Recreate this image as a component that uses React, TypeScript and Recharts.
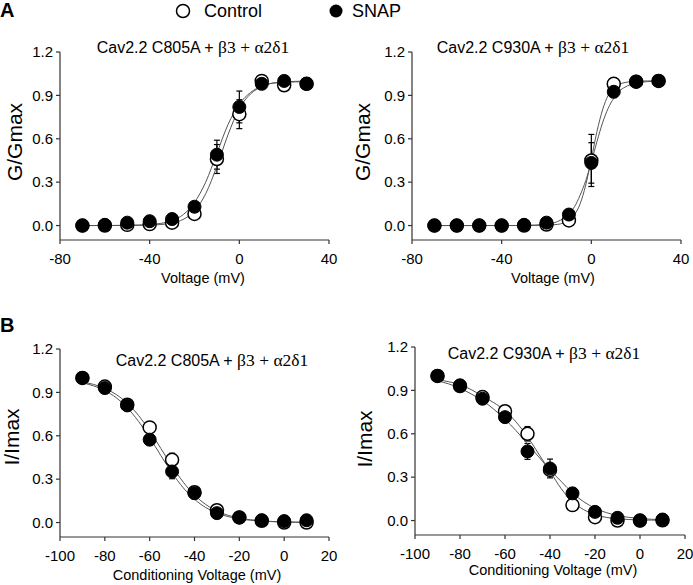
import { ComposedChart, Line, XAxis, YAxis, ErrorBar } from 'recharts';

// ---------- Panel A: activation (G/Gmax) ----------
const actVoltages = [-70, -60, -50, -40, -30, -20, -10, 0, 10, 20, 30];

const actC805Control = [0, 0, 0.005, 0.01, 0.02, 0.08, 0.46, 0.77, 1.0, 0.97, 0.98];
const actC805ControlErr = [0, 0, 0, 0, 0.01, 0.01, 0.1, 0.1, 0.02, 0.01, 0.01];
const actC805Snap = [0, 0.005, 0.02, 0.03, 0.045, 0.13, 0.49, 0.82, 0.98, 1.0, 0.98];
const actC805SnapErr = [0, 0, 0.005, 0.01, 0.01, 0.02, 0.1, 0.11, 0.03, 0.01, 0.01];

const actC930Control = [0, 0, 0, 0, 0, 0.007, 0.035, 0.45, 0.98, 0.995, 1.0];
const actC930ControlErr = [0, 0, 0, 0, 0, 0, 0.01, 0.18, 0.01, 0.01, 0];
const actC930Snap = [0, 0, 0, 0, 0.005, 0.02, 0.076, 0.433, 0.925, 0.995, 1.0];
const actC930SnapErr = [0, 0, 0, 0, 0, 0.005, 0.01, 0.14, 0.04, 0.01, 0];

// fitted curves
const actFitV805 = [-70, -60, -50, -40, -35, -30, -25, -20, -15, -10, -5, 0, 5, 10, 15, 20, 25, 30];
const actFitC805Control = [0, 0, 0.001, 0.003, 0.007, 0.018, 0.043, 0.1, 0.22, 0.41, 0.63, 0.81, 0.91, 0.96, 0.985, 0.99, 0.993, 0.995];
const actFitC805Snap = [0, 0, 0.0013, 0.007, 0.015, 0.034, 0.076, 0.16, 0.3, 0.5, 0.7, 0.84, 0.92, 0.965, 0.985, 0.993, 0.997, 0.998];

const actFitV930 = [-70, -60, -50, -40, -30, -20, -15, -10, -7.5, -5, -2.5, 0, 2.5, 5, 7.5, 10, 12.5, 15, 20, 25, 30];
const actFitC930Control = [0, 0, 0, 0, 0, 0.002, 0.008, 0.036, 0.076, 0.15, 0.28, 0.46, 0.65, 0.8, 0.9, 0.95, 0.977, 0.989, 0.998, 1.0, 1.0];
const actFitC930Snap = [0, 0, 0, 0, 0.001, 0.009, 0.028, 0.08, 0.13, 0.21, 0.31, 0.44, 0.58, 0.71, 0.81, 0.88, 0.93, 0.957, 0.985, 0.995, 0.998];

// ---------- Panel B: inactivation (I/Imax) ----------
const inactVoltages = [-90, -80, -70, -60, -50, -40, -30, -20, -10, 0, 10];

const inactC805Control = [1.0, 0.94, 0.815, 0.658, 0.434, 0.21, 0.085, 0.035, 0.012, 0.0, 0.0];
const inactC805ControlErr = [0, 0.01, 0.01, 0.02, 0.045, 0.03, 0.02, 0.01, 0, 0, 0];
const inactC805Snap = [1.0, 0.93, 0.81, 0.573, 0.353, 0.203, 0.065, 0.035, 0.016, 0.01, 0.016];
const inactC805SnapErr = [0, 0.01, 0.01, 0.035, 0.05, 0.04, 0.02, 0.01, 0, 0, 0];

const inactC930Control = [1.0, 0.93, 0.854, 0.756, 0.6, 0.35, 0.107, 0.023, 0.0, 0.0, 0.002];
const inactC930ControlErr = [0, 0.01, 0.01, 0.02, 0.05, 0.04, 0.035, 0.01, 0, 0, 0];
const inactC930Snap = [1.0, 0.935, 0.842, 0.715, 0.478, 0.36, 0.188, 0.06, 0.019, 0.0, 0.007];
const inactC930SnapErr = [0, 0.01, 0.01, 0.025, 0.055, 0.065, 0.02, 0.015, 0, 0, 0];

const inactFitV = [-90, -85, -80, -75, -70, -65, -60, -55, -50, -45, -40, -35, -30, -25, -20, -15, -10, -5, 0, 5, 10];
const inactFitC805Control = [0.972, 0.955, 0.928, 0.886, 0.825, 0.741, 0.634, 0.512, 0.389, 0.279, 0.19, 0.125, 0.079, 0.05, 0.031, 0.019, 0.012, 0.007, 0.004, 0.003, 0.002];
const inactFitC805Snap = [0.966, 0.945, 0.913, 0.864, 0.794, 0.7, 0.587, 0.463, 0.343, 0.24, 0.161, 0.104, 0.066, 0.041, 0.025, 0.016, 0.01, 0.006, 0.004, 0.002, 0.001];
const inactFitC930Control = [0.975, 0.96, 0.94, 0.905, 0.86, 0.815, 0.76, 0.68, 0.58, 0.46, 0.34, 0.22, 0.13, 0.075, 0.04, 0.022, 0.012, 0.007, 0.004, 0.003, 0.002];
const inactFitC930Snap = [0.965, 0.945, 0.915, 0.875, 0.83, 0.77, 0.7, 0.62, 0.53, 0.44, 0.35, 0.27, 0.19, 0.13, 0.085, 0.055, 0.035, 0.022, 0.014, 0.009, 0.006];

const actTicks = [-80, -40, 0, 40];
const inactTicks = [-100, -80, -60, -40, -20, 0, 20];
const yTicks = [0, 0.3, 0.6, 0.9, 1.2];

const SANS = 'Arial, "Liberation Sans", sans-serif';
const SERIF = '"Times New Roman", "Liberation Serif", serif';
const AXIS = '#333';
const FIT = '#555';

const points = (xs: number[], ys: number[], errs?: number[]) =>
  xs.map((v, i) => ({ v, y: ys[i], err: errs ? errs[i] : 0 }));

interface PanelProps {
  left: number;
  top: number;
  width: number;
  xDomain: [number, number];
  xTicks: number[];
  fitX: number[];
  fitControl: number[];
  fitSnap: number[];
  x: number[];
  control: number[];
  controlErr: number[];
  snap: number[];
  snapErr: number[];
}

function Panel(p: PanelProps) {
  const ctrlPts = points(p.x, p.control, p.controlErr);
  const snapPts = points(p.x, p.snap, p.snapErr);
  return (
    <div style={{ position: 'absolute', left: p.left, top: p.top }}>
      <ComposedChart width={p.width} height={260} margin={{ top: 22, right: 12, left: 0, bottom: 0 }}>
        <XAxis
          type="number"
          dataKey="v"
          domain={p.xDomain}
          ticks={p.xTicks}
          allowDataOverflow
          height={50}
          stroke={AXIS}
          strokeWidth={1.2}
          tickSize={4}
          tickMargin={9}
          tick={{ fontSize: 15, fill: '#000', fontFamily: SANS }}
        />
        <YAxis
          type="number"
          domain={[-0.1, 1.2]}
          ticks={yTicks}
          allowDataOverflow
          width={60}
          stroke={AXIS}
          strokeWidth={1.2}
          tickSize={4}
          tickMargin={3}
          tickFormatter={(v: number) => v.toFixed(1)}
          tick={{ fontSize: 15, fill: '#000', fontFamily: SANS }}
        />
        {/* error bars first so the markers sit on top of them */}
        <Line data={ctrlPts} dataKey="y" stroke="none" dot={false} activeDot={false} isAnimationActive={false}>
          <ErrorBar dataKey="err" direction="y" width={3} stroke="#000" strokeWidth={1.2} />
        </Line>
        <Line data={snapPts} dataKey="y" stroke="none" dot={false} activeDot={false} isAnimationActive={false}>
          <ErrorBar dataKey="err" direction="y" width={3} stroke="#000" strokeWidth={1.2} />
        </Line>
        <Line data={points(p.fitX, p.fitControl)} dataKey="y" type="monotone" stroke={FIT} strokeWidth={1} dot={false} activeDot={false} isAnimationActive={false} />
        <Line data={points(p.fitX, p.fitSnap)} dataKey="y" type="monotone" stroke={FIT} strokeWidth={1} dot={false} activeDot={false} isAnimationActive={false} />
        <Line
          data={ctrlPts}
          dataKey="y"
          stroke="none"
          dot={{ r: 6.5, fill: '#fff', stroke: '#000', strokeWidth: 1.5 }}
          activeDot={false}
          isAnimationActive={false}
        />
        <Line
          data={snapPts}
          dataKey="y"
          stroke="none"
          dot={{ r: 6.5, fill: '#000', stroke: '#000', strokeWidth: 1 }}
          activeDot={false}
          isAnimationActive={false}
        />
      </ComposedChart>
    </div>
  );
}

function Title({ cx, cy, mutant }: { cx: number; cy: number; mutant: string }) {
  return (
    <div
      style={{
        position: 'absolute',
        left: cx - 150,
        top: cy - 11,
        width: 300,
        lineHeight: '22px',
        textAlign: 'center',
        whiteSpace: 'nowrap',
      }}
    >
      <span style={{ fontFamily: SANS, fontSize: 16 }}>Cav2.2 {mutant} + </span>
      <span style={{ fontFamily: SERIF, fontSize: 17.5 }}>β3 + α2δ1</span>
    </div>
  );
}

function XLabel({ cx, cy, text }: { cx: number; cy: number; text: string }) {
  return (
    <div
      style={{
        position: 'absolute',
        left: cx - 120,
        top: cy - 9,
        width: 240,
        lineHeight: '18px',
        textAlign: 'center',
        fontFamily: SANS,
        fontSize: 14.5,
      }}
    >
      {text}
    </div>
  );
}

function YLabel({ cx, cy, text }: { cx: number; cy: number; text: string }) {
  return (
    <div
      style={{
        position: 'absolute',
        left: cx - 60,
        top: cy - 13,
        width: 120,
        lineHeight: '26px',
        textAlign: 'center',
        fontFamily: SANS,
        fontSize: 21,
        transform: 'rotate(-90deg)',
      }}
    >
      {text}
    </div>
  );
}

export default function App() {
  return (
    <div style={{ position: 'absolute', left: 0, top: 0, width: 693, height: 585, background: '#fff', color: '#000' }}>
      <div style={{ position: 'absolute', left: 0, top: -1, fontFamily: SANS, fontSize: 20, fontWeight: 'bold' }}>A</div>
      <div style={{ position: 'absolute', left: 0, top: 314, fontFamily: SANS, fontSize: 20, fontWeight: 'bold' }}>B</div>

      {/* legend */}
      <svg style={{ position: 'absolute', left: 0, top: 0 }} width={693} height={24}>
        <circle cx={183} cy={11} r={6.5} fill="#fff" stroke="#000" strokeWidth={1.5} />
        <circle cx={336} cy={11} r={6.5} fill="#000" />
      </svg>
      <div style={{ position: 'absolute', left: 204, top: 0, lineHeight: '22px', fontFamily: SANS, fontSize: 18 }}>Control</div>
      <div style={{ position: 'absolute', left: 352, top: 0, lineHeight: '22px', fontFamily: SANS, fontSize: 18 }}>SNAP</div>

      <Panel
        left={0}
        top={30}
        width={341}
        xDomain={[-80, 40]}
        xTicks={actTicks}
        fitX={actFitV805}
        fitControl={actFitC805Control}
        fitSnap={actFitC805Snap}
        x={actVoltages}
        control={actC805Control}
        controlErr={actC805ControlErr}
        snap={actC805Snap}
        snapErr={actC805SnapErr}
      />
      <Panel
        left={352}
        top={30}
        width={341}
        xDomain={[-80, 40]}
        xTicks={actTicks}
        fitX={actFitV930}
        fitControl={actFitC930Control}
        fitSnap={actFitC930Snap}
        x={actVoltages}
        control={actC930Control}
        controlErr={actC930ControlErr}
        snap={actC930Snap}
        snapErr={actC930SnapErr}
      />
      <Panel
        left={0}
        top={327}
        width={341}
        xDomain={[-100, 20]}
        xTicks={inactTicks}
        fitX={inactFitV}
        fitControl={inactFitC805Control}
        fitSnap={inactFitC805Snap}
        x={inactVoltages}
        control={inactC805Control}
        controlErr={inactC805ControlErr}
        snap={inactC805Snap}
        snapErr={inactC805SnapErr}
      />
      <Panel
        left={355}
        top={325}
        width={342}
        xDomain={[-100, 20]}
        xTicks={inactTicks}
        fitX={inactFitV}
        fitControl={inactFitC930Control}
        fitSnap={inactFitC930Snap}
        x={inactVoltages}
        control={inactC930Control}
        controlErr={inactC930ControlErr}
        snap={inactC930Snap}
        snapErr={inactC930SnapErr}
      />

      <Title cx={193} cy={47} mutant="C805A" />
      <Title cx={533} cy={47} mutant="C930A" />
      <Title cx={212} cy={360} mutant="C805A" />
      <Title cx={544} cy={353} mutant="C930A" />

      <XLabel cx={203} cy={278} text="Voltage (mV)" />
      <XLabel cx={553} cy={278} text="Voltage (mV)" />
      <XLabel cx={197} cy={575} text="Conditioning Voltage (mV)" />
      <XLabel cx={553} cy={570} text="Conditioning Voltage (mV)" />

      <YLabel cx={15} cy={142} text="G/Gmax" />
      <YLabel cx={363} cy={142} text="G/Gmax" />
      <YLabel cx={12} cy={437} text="I/Imax" />
      <YLabel cx={365} cy={439} text="I/Imax" />
    </div>
  );
}
